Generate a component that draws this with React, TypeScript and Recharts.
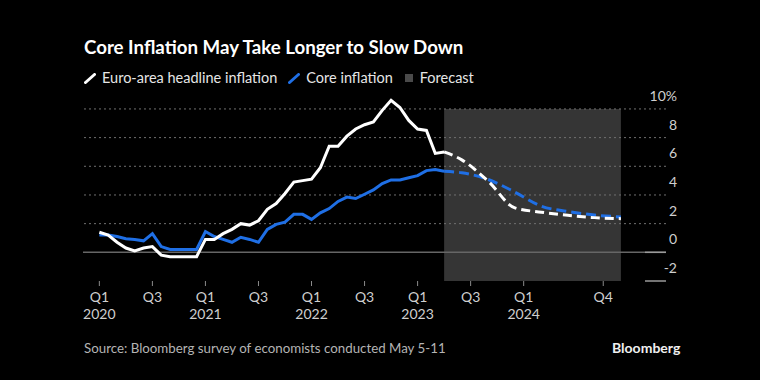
import {
  LineChart,
  Line,
  XAxis,
  YAxis,
  ReferenceArea,
  ReferenceLine,
} from "recharts";

// monthly readings, month 0 = Jan 2020 ... month 39 = Apr 2023
const headlineActual = [
  1.4, 1.2, 0.7, 0.3, 0.1, 0.3, 0.4, -0.2, -0.3, -0.3, -0.3, -0.3,
  0.9, 0.9, 1.3, 1.6, 2.0, 1.9, 2.2, 3.0, 3.4, 4.1, 4.9, 5.0,
  5.1, 5.9, 7.4, 7.4, 8.1, 8.6, 8.9, 9.1, 9.9, 10.6, 10.1, 9.2,
  8.6, 8.5, 6.9, 7.0,
];

const coreActual = [
  1.2, 1.2, 1.1, 0.95, 0.9, 0.8, 1.3, 0.4, 0.2, 0.2, 0.2, 0.2,
  1.45, 1.1, 0.9, 0.7, 1.05, 0.9, 0.7, 1.6, 1.95, 2.1, 2.65, 2.65,
  2.3, 2.75, 3.05, 3.55, 3.85, 3.75, 4.05, 4.35, 4.8, 5.05, 5.05, 5.2,
  5.35, 5.7, 5.78, 5.65,
];

// survey forecasts, at quarter-end months
const forecastMonths = [39, 41, 44, 47, 50, 53, 56, 59];
const headlineForecast = [7.0, 6.45, 4.95, 3.1, 2.8, 2.58, 2.42, 2.35];
const coreForecast = [5.65, 5.55, 5.08, 4.2, 3.22, 2.85, 2.6, 2.47];

const forecastStart = 39;
const forecastEnd = 59;

const tickMonths = [0, 6, 12, 18, 24, 30, 36, 42, 48, 57];
const tickQuarters = ["Q1", "Q3", "Q1", "Q3", "Q1", "Q3", "Q1", "Q3", "Q1", "Q4"];
const tickYears = ["2020", "", "2021", "", "2022", "", "2023", "", "2024", ""];

const yTicks = [-2, 0, 2, 4, 6, 8, 10];
const gridValues = [2, 4, 6, 8, 10];

const FONT = "Lato, 'Noto Sans', sans-serif";
const BLUE = "#1f6fe5";

const rows = new Map<number, any>();
headlineActual.forEach((v, i) => {
  rows.set(i, { month: i, headline: v, core: coreActual[i] });
});
forecastMonths.forEach((m, i) => {
  const row = rows.get(m) ?? { month: m };
  row.headlineF = headlineForecast[i];
  row.coreF = coreForecast[i];
  rows.set(m, row);
});
const data = [...rows.values()].sort((a, b) => a.month - b.month);

function QuarterTick(props: any) {
  const { x, y, payload } = props;
  const i = tickMonths.indexOf(payload.value);
  return (
    <g>
      <text x={x} y={y + 14} textAnchor="middle" fill="#cfcfcf" fontSize={14} style={{ fontFamily: FONT }}>
        {tickQuarters[i]}
      </text>
      <text x={x} y={y + 31} textAnchor="middle" fill="#cfcfcf" fontSize={14} style={{ fontFamily: FONT }}>
        {tickYears[i]}
      </text>
    </g>
  );
}

function ValueTick(props: any) {
  const { x, y, payload } = props;
  const v = payload.value;
  return (
    <g>
      {v <= 0 && (
        <line x1={x - 29} x2={x - 8} y1={y} y2={y} stroke="#9a9a9a" strokeWidth={1.5} />
      )}
      <text x={x + 3} y={y - 8} textAnchor="end" fill="#cfcfcf" fontSize={14} style={{ fontFamily: FONT }}>
        {v === 10 ? "10%" : v}
      </text>
    </g>
  );
}

function Slash({ color }: { color: string }) {
  return (
    <svg width={12} height={11} style={{ marginRight: 6 }}>
      <line x1={1.5} y1={9.5} x2={10.5} y2={1.5} stroke={color} strokeWidth={3} strokeLinecap="round" />
    </svg>
  );
}

export default function App() {
  return (
    <div
      style={{
        position: "absolute",
        left: 0,
        top: 0,
        width: 760,
        height: 380,
        background: "#000",
        overflow: "hidden",
        fontFamily: FONT,
      }}
    >
      {/* y domain runs to 11 so the Oct 2022 peak can rise above the 10% line */}
      <LineChart
        width={760}
        height={380}
        data={data}
        margin={{ top: 94.6, right: 64, bottom: 59, left: 83 }}
      >
        <XAxis
          dataKey="month"
          type="number"
          domain={[-1.85, 64.1]}
          ticks={tickMonths}
          interval={0}
          axisLine={false}
          tickLine={{ stroke: "#8a8a8a" }}
          tickSize={5}
          height={40}
          tick={<QuarterTick />}
        />
        <YAxis
          orientation="right"
          type="number"
          domain={[-2, 11]}
          ticks={yTicks}
          axisLine={false}
          tickLine={false}
          width={30}
          tick={<ValueTick />}
        />
        <ReferenceArea
          x1={forecastStart}
          x2={forecastEnd}
          y1={-2}
          y2={10}
          fill="#353535"
          fillOpacity={1}
          stroke="none"
        />
        {gridValues.map((v) => (
          <ReferenceLine key={v} y={v} stroke="#707070" strokeDasharray="2 3" />
        ))}
        <ReferenceLine y={0} stroke="#666" strokeWidth={1.5} />
        <Line type="linear" dataKey="core" stroke={BLUE} strokeWidth={3} dot={false} isAnimationActive={false} />
        <Line type="linear" dataKey="headline" stroke="#fff" strokeWidth={3} dot={false} isAnimationActive={false} />
        <Line type="monotone" dataKey="coreF" stroke={BLUE} strokeWidth={3} strokeDasharray="10 5" dot={false} isAnimationActive={false} />
        <Line type="monotone" dataKey="headlineF" stroke="#fff" strokeWidth={3} strokeDasharray="9 5" dot={false} isAnimationActive={false} />
      </LineChart>

      <div
        style={{
          position: "absolute",
          left: 84,
          top: 35,
          color: "#fff",
          fontSize: 18.7,
          fontWeight: 700,
          lineHeight: "24px",
        }}
      >
        Core Inflation May Take Longer to Slow Down
      </div>

      <div
        style={{
          position: "absolute",
          left: 84,
          top: 69,
          display: "flex",
          alignItems: "center",
          color: "#e6e6e6",
          fontSize: 14.5,
          lineHeight: "18px",
        }}
      >
        <Slash color="#fff" />
        <span style={{ marginRight: 11 }}>Euro-area headline inflation</span>
        <Slash color={BLUE} />
        <span style={{ marginRight: 12 }}>Core inflation</span>
        <span style={{ width: 8, height: 8, background: "#4a4a4a", marginRight: 7 }} />
        <span>Forecast</span>
      </div>

      <div
        style={{
          position: "absolute",
          left: 84,
          top: 339,
          color: "#b4b4b4",
          fontSize: 13.3,
          lineHeight: "18px",
        }}
      >
        Source: Bloomberg survey of economists conducted May 5-11
      </div>

      <div
        style={{
          position: "absolute",
          left: 612,
          top: 339,
          color: "#f0f0f0",
          fontSize: 14,
          fontWeight: 700,
          lineHeight: "18px",
        }}
      >
        Bloomberg
      </div>
    </div>
  );
}
